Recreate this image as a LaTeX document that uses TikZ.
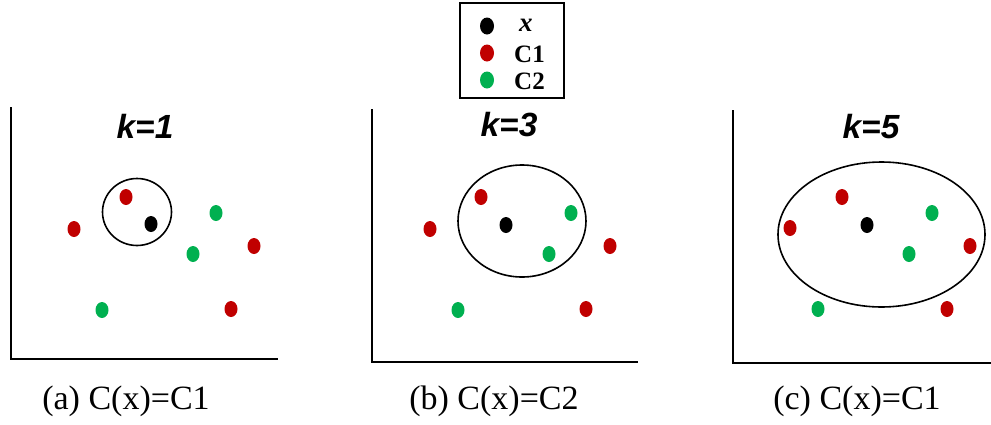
\documentclass[tikz,border=0pt]{standalone}
\usepackage{fontspec}
\setmainfont{Liberation Serif}
\newfontfamily\titlefont{Liberation Sans}
\usetikzlibrary{shapes.geometric}
\definecolor{cred}{RGB}{192,0,0}
\definecolor{cgreen}{RGB}{0,176,80}
\tikzset{
  dot/.style={ellipse, fill=#1, minimum width=13pt, minimum height=16pt, inner sep=0pt},
  ldot/.style={ellipse, fill=#1, minimum width=14pt, minimum height=17pt, inner sep=0pt},
  axisline/.style={line width=2pt, black},
  hood/.style={line width=1.6pt, black},
  ktitle/.style={font=\titlefont\bfseries\itshape\fontsize{33.5}{33.5}\selectfont, inner sep=0pt},
  capt/.style={font=\fontsize{34}{34}\selectfont, inner sep=0pt},
  legtext/.style={font=\bfseries\fontsize{25}{25}\selectfont, inner sep=0pt, anchor=west}
}
\begin{document}
\begin{tikzpicture}[x=1pt,y=-1pt]
\useasboundingbox (0,0) rectangle (991,424);
% legend
\node[draw, line width=1.3pt, minimum width=104pt, minimum height=95pt, inner sep=0pt] (legend) at (512,50.5) {};
\node[ldot=black] (lx) at (487,26) {};
\node[ldot=cred] (l1) at (487,53) {};
\node[ldot=cgreen] (l2) at (487,80) {};
\node[legtext, font=\bfseries\itshape\fontsize{27}{27}\selectfont] (tx) at (519,25) {x};
\node[legtext] (t1) at (514,54) {C1};
\node[legtext] (t2) at (514,81) {C2};

% panel a
\coordinate (atop) at (11,107);
\coordinate (aorig) at (11,359);
\coordinate (aright) at (278,359);
\draw[axisline] (atop) -- (aorig) -- (aright);
\node[ktitle] (ka) at (145,126) {k=1};
\node[draw, hood, ellipse, minimum width=69pt, minimum height=67pt, inner sep=0pt] (ha) at (137,212) {};
\node[dot=cred] (a1) at (126,197) {};
\node[dot=black] (ax) at (151,224) {};
\node[dot=cred] (a2) at (74,229) {};
\node[dot=cgreen] (a3) at (216,213) {};
\node[dot=cgreen] (a4) at (193,254) {};
\node[dot=cred] (a5) at (254,246) {};
\node[dot=cgreen] (a6) at (102,310) {};
\node[dot=cred] (a7) at (231,309) {};
\node[capt] (ca) at (126,401) {(a) C(x)=C1};

% panel b
\coordinate (btop) at (372,109);
\coordinate (borig) at (372,362);
\coordinate (bright) at (638,362);
\draw[axisline] (btop) -- (borig) -- (bright);
\node[ktitle] (kb) at (509,125) {k=3};
\node[draw, hood, ellipse, minimum width=128pt, minimum height=112pt, inner sep=0pt] (hb) at (522,221) {};
\node[dot=cred] (b1) at (481,197) {};
\node[dot=black] (bx) at (506,225) {};
\node[dot=cred] (b2) at (430,229) {};
\node[dot=cgreen] (b3) at (571,213) {};
\node[dot=cgreen] (b4) at (549,254) {};
\node[dot=cred] (b5) at (610,246) {};
\node[dot=cgreen] (b6) at (458,310) {};
\node[dot=cred] (b7) at (586,309) {};
\node[capt] (cb) at (494,401) {(b) C(x)=C2};

% panel c
\coordinate (ctop) at (733,110);
\coordinate (corig) at (733,363);
\coordinate (cright) at (991,363);
\draw[axisline] (ctop) -- (corig) -- (cright);
\node[ktitle] (kc) at (871,127) {k=5};
\node[draw, hood, ellipse, minimum width=207pt, minimum height=145pt, inner sep=0pt] (hc) at (881.5,234.5) {};
\node[dot=cred] (c1) at (842,197) {};
\node[dot=black] (cx) at (867,225) {};
\node[dot=cred] (c2) at (790,228) {};
\node[dot=cgreen] (c3) at (932,213) {};
\node[dot=cgreen] (c4) at (909,254) {};
\node[dot=cred] (c5) at (970,246) {};
\node[dot=cgreen] (c6) at (818,309) {};
\node[dot=cred] (c7) at (947,309) {};
\node[capt] (cc) at (857,401) {(c) C(x)=C1};
\end{tikzpicture}
\end{document}
